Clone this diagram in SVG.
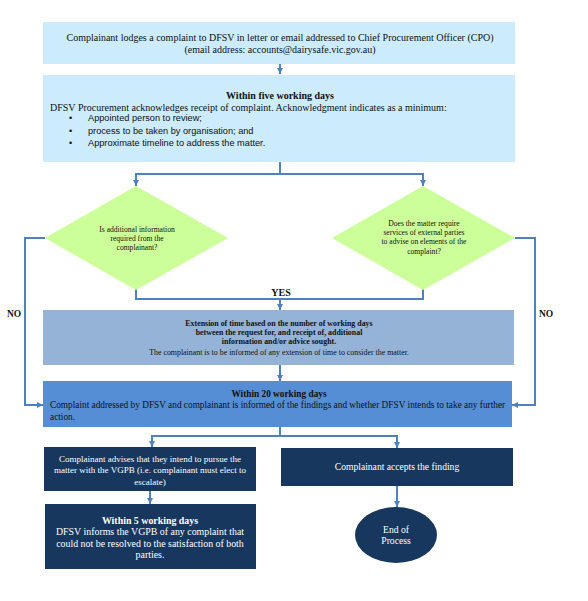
<svg xmlns="http://www.w3.org/2000/svg" width="588" height="601" viewBox="0 0 588 601">
<defs>
<marker id="ah" viewBox="0 0 10 10" refX="10" refY="5" markerWidth="6" markerHeight="6" markerUnits="userSpaceOnUse" orient="auto">
<path d="M0,0 L10,5 L0,10 z" fill="#4F81BD"/>
</marker>
</defs>
<style>
.c{fill:none;stroke:#4F81BD;stroke-width:2}
.a{marker-end:url(#ah)}
.t{font-family:"Liberation Serif","Times New Roman",serif;fill:#111;}
.s{font-family:"Liberation Sans",Arial,sans-serif;fill:#111;}
.w{font-family:"Liberation Serif","Times New Roman",serif;fill:#fff;}
.m{text-anchor:middle}
.b{font-weight:bold}
.lb{fill:#CCEBFC}
.dm{fill:#CCFF99}
.nv{fill:#17375E}
</style>
<rect width="588" height="601" fill="#fff"/>
<g id="connectors">
<path class="c a" d="M280,64 V74"/>
<path class="c a" d="M280,162 V174 H136 V186"/>
<path class="c a" d="M280,174 H423 V186"/>
<path class="c a" d="M45,238 H25 V405 H43"/>
<path class="c a" d="M515,238 H535 V405 H512"/>
<path class="c" d="M136,289 V299 H423 V289"/>
<path class="c a" d="M280,299 V310"/>
<path class="c a" d="M280,365 V381"/>
<path class="c a" d="M280,427 V436 H152 V447"/>
<path class="c a" d="M280,436 H397 V448"/>
<path class="c a" d="M150,491 V504"/>
<path class="c a" d="M397,486 V507"/>
<text class="t b m" x="281" y="296" font-size="10">YES</text>
<text class="t b m" x="14" y="317" font-size="9.5">NO</text>
<text class="t b m" x="546" y="317" font-size="9.5">NO</text>
</g>
<g id="n1">
<rect class="lb" x="43" y="22" width="472" height="42"/>
<text class="t m" x="280" y="41" font-size="10">Complainant lodges a complaint to DFSV in letter or email addressed to Chief Procurement Officer (CPO)</text>
<text class="t m" x="280" y="53" font-size="10">(email address: accounts@dairysafe.vic.gov.au)</text>
</g>
<g id="n2">
<rect class="lb" x="43" y="75" width="472" height="87"/>
<text class="t b m" x="280" y="99" font-size="10">Within five working days</text>
<text class="t" x="50" y="111" font-size="10">DFSV Procurement acknowledges receipt of complaint. Acknowledgment indicates as a minimum:</text>
<text class="s" x="69" y="121" font-size="9">•</text>
<text class="s" x="88" y="121" font-size="9.2">Appointed person to review;</text>
<text class="s" x="69" y="134" font-size="9">•</text>
<text class="s" x="88" y="134" font-size="9.2">process to be taken by organisation; and</text>
<text class="s" x="69" y="146" font-size="9">•</text>
<text class="s" x="88" y="146" font-size="9.2">Approximate timeline to address the matter.</text>
</g>
<g id="d1">
<polygon class="dm" points="136,186 228,238 136,290 45,238"/>
<text class="t m" x="137" y="232" font-size="7.6">Is additional information</text>
<text class="t m" x="137" y="241" font-size="7.6">required from the</text>
<text class="t m" x="137" y="250" font-size="7.6">complainant?</text>
</g>
<g id="d2">
<polygon class="dm" points="423,186 515,238 423,290 332,238"/>
<text class="t m" x="424" y="226" font-size="7.6">Does the matter require</text>
<text class="t m" x="424" y="235" font-size="7.6">services of external parties</text>
<text class="t m" x="424" y="244" font-size="7.6">to advise on elements of the</text>
<text class="t m" x="424" y="254" font-size="7.6">complaint?</text>
</g>
<g id="n3">
<rect x="43" y="310" width="471" height="55" fill="#95B3D7"/>
<text class="t b m" x="279" y="326" font-size="7.9">Extension of time based on the number of working days</text>
<text class="t b m" x="279" y="335" font-size="7.9">between the request for, and receipt of, additional</text>
<text class="t b m" x="279" y="344" font-size="7.9">information and/or advice sought.</text>
<text class="t m" x="279" y="355" font-size="7.9">The complainant is to be informed of any extension of time to consider the matter.</text>
</g>
<g id="n4">
<rect x="43" y="381" width="469" height="46" fill="#558ED5"/>
<text class="t b m" x="279" y="397" font-size="9.3">Within 20 working days</text>
<text class="t" x="50" y="408" font-size="9.3">Complaint addressed by DFSV and complainant is informed of the findings and whether DFSV intends to take any further</text>
<text class="t" x="50" y="420" font-size="9.3">action.</text>
</g>
<g id="n5">
<rect class="nv" x="44" y="447" width="212" height="44"/>
<text class="w m" x="150" y="462" font-size="9">Complainant advises that they intend to pursue the</text>
<text class="w m" x="150" y="473" font-size="9">matter with the VGPB (i.e. complainant must elect to</text>
<text class="w m" x="150" y="485" font-size="9">escalate)</text>
</g>
<g id="n6">
<rect class="nv" x="281" y="448" width="232" height="38"/>
<text class="w m" x="397" y="470" font-size="9.6">Complainant accepts the finding</text>
</g>
<g id="n7">
<rect class="nv" x="45" y="504" width="211" height="65"/>
<text class="w b m" x="150" y="524" font-size="9.9">Within 5 working days</text>
<text class="w m" x="150" y="535" font-size="9.9">DFSV informs the VGPB of any complaint that</text>
<text class="w m" x="150" y="547" font-size="9.9">could not be resolved to the satisfaction of both</text>
<text class="w m" x="150" y="558" font-size="9.9">parties.</text>
</g>
<g id="n8">
<ellipse class="nv" cx="396" cy="535" rx="41" ry="28"/>
<text class="w m" x="396" y="533" font-size="9.6">End of</text>
<text class="w m" x="396" y="544" font-size="9.6">Process</text>
</g>
</svg>
